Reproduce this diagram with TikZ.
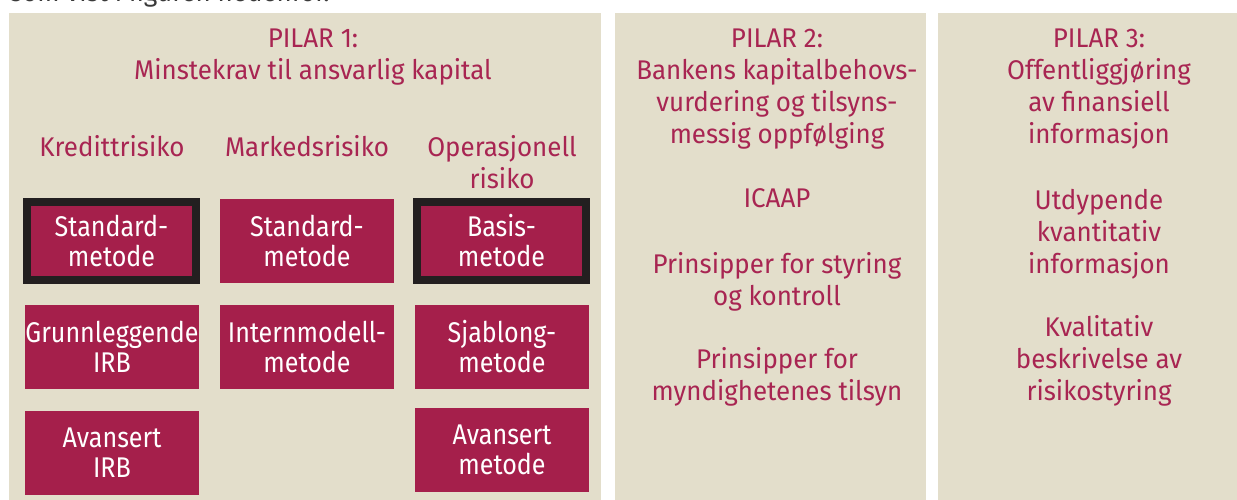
\documentclass[tikz,border=0pt]{standalone}
\usepackage{fontspec}
\setmainfont{Fira Sans}[FakeStretch=0.88]
\newfontfamily\hdrfont{Fira Sans}[FakeStretch=0.96]
\definecolor{beige}{HTML}{E3DECB}
\definecolor{wine}{HTML}{A51F4B}
\definecolor{winetext}{HTML}{A82552}
\definecolor{frame}{HTML}{231F20}
\definecolor{greytext}{HTML}{3A3A3A}
\tikzset{
  panel/.style={fill=beige, draw=none, anchor=north west, inner sep=0pt},
  hdr/.style={text=winetext, align=center, anchor=base, inner sep=0pt,
    font=\hdrfont\fontsize{27}{32}\selectfont},
  mbox/.style={fill=wine, draw=none, text=white, align=center, inner sep=0pt,
    minimum width=174pt, minimum height=84pt,
    font=\fontsize{28.5}{30}\selectfont},
  fbox/.style={mbox, draw=frame, line width=8pt,
    minimum width=169pt, minimum height=78pt},
}
\begin{document}
\begin{tikzpicture}[x=1pt, y=-1pt]
\useasboundingbox (0,0) rectangle (1237,500);
% cut-off text line at top
\begin{scope}
\clip (0,0) rectangle (1237,13);
\node[text=greytext, anchor=base west, inner sep=0pt, font=\hdrfont\fontsize{27}{32}\selectfont] (cut) at (10,1.5) {som vist i figuren nedenfor.};
\end{scope}
% panels
\node[panel, minimum width=592pt, minimum height=487pt] (p1) at (9,13) {};
\node[panel, minimum width=311pt, minimum height=487pt] (p2) at (615,13) {};
\node[panel, minimum width=299pt, minimum height=487pt] (p3) at (938,13) {};
% pillar 1 (anchor base = baseline of last line)
\node[hdr] (h1) at (313,80) {PILAR 1:\\Minstekrav til ansvarlig kapital};
\node[hdr] (kr) at (112,157) {Kredittrisiko};
\node[hdr] (mr) at (307,157) {Markedsrisiko};
\node[hdr] (or) at (502,188) {Operasjonell\\risiko};
\node[fbox] (k1) at (111.5,241) {Standard-\\metode};
\node[mbox] (m1) at (307,241) {Standard-\\metode};
\node[fbox] (o1) at (501.5,241) {Basis-\\metode};
\node[mbox] (k2) at (112,347) {Grunnleggende\\IRB};
\node[mbox] (m2) at (307,347) {Internmodell-\\metode};
\node[mbox] (o2) at (502,347) {Sjablong-\\metode};
\node[mbox] (k3) at (112,453) {Avansert\\IRB};
\node[mbox] (o3) at (502,450) {Avansert\\metode};
% pillar 2
\node[hdr] (h2) at (777,143) {PILAR 2:\\Bankens kapitalbehovs-\\vurdering og tilsyns-\\messig oppfølging};
\node[hdr] (icaap) at (777,207) {ICAAP};
\node[hdr] (ps) at (777,305) {Prinsipper for styring\\og kontroll};
\node[hdr] (pm) at (777,400) {Prinsipper for\\myndighetenes tilsyn};
% pillar 3
\node[hdr] (h3) at (1099,143) {PILAR 3:\\Offentliggjøring\\av finansiell\\informasjon};
\node[hdr] (ud) at (1099,273) {Utdypende\\kvantitativ\\informasjon};
\node[hdr] (kv) at (1099,400) {Kvalitativ\\beskrivelse av\\risikostyring};
\end{tikzpicture}
\end{document}
